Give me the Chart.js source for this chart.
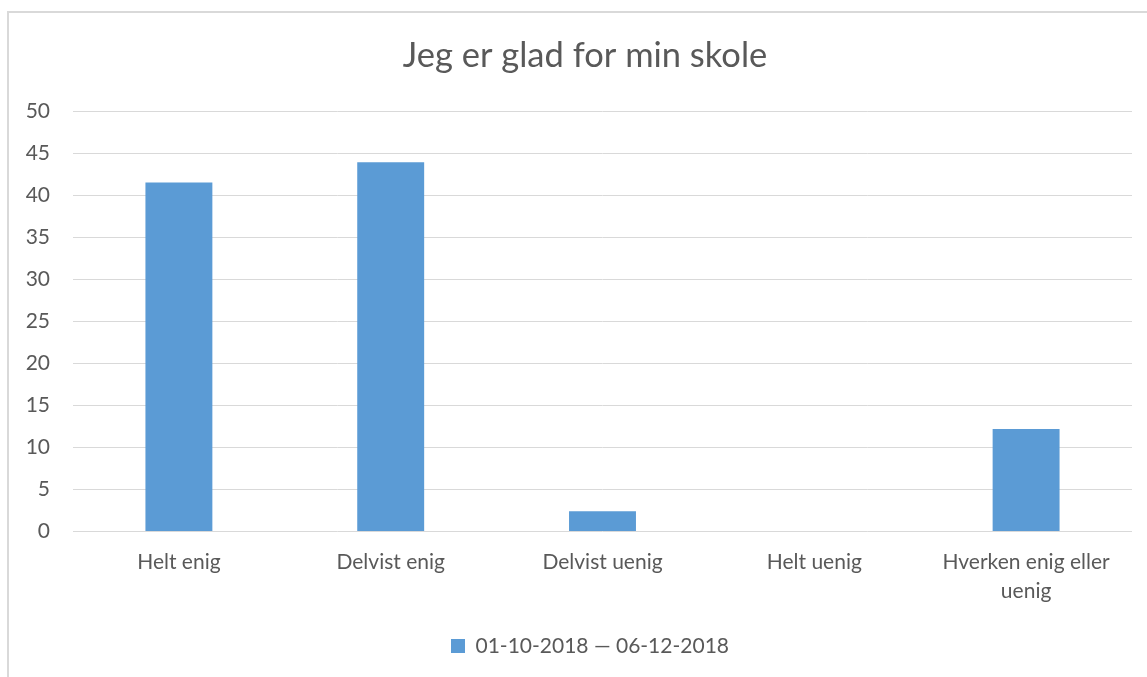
<!DOCTYPE html>
<html>
<head>
<meta charset="utf-8">
<script src="https://cdn.jsdelivr.net/npm/chart.js@4/dist/chart.umd.min.js"></script>
<style>
  html, body { margin: 0; padding: 0; background: #fff; overflow: hidden; width: 1147px; height: 677px; }
  #frame { position: absolute; left: 7px; top: 11px; width: 1200px; height: 700px; border-left: 2px solid #d9d9d9; border-top: 2px solid #d9d9d9; }
  #wrap { position: absolute; left: 0; top: 0; width: 1147px; height: 677px; }
</style>
</head>
<body>
<div id="frame"></div>
<div id="wrap"><canvas id="c" width="1147" height="677"></canvas></div>
<script>
const titleText = 'Jeg er glad for min skole';
const categories = ['Helt enig', 'Delvist enig', 'Delvist uenig', 'Helt uenig', ['Hverken enig eller', 'uenig']];
const seriesLabel = '01-10-2018 \u2014 06-12-2018';
const seriesValues = [41.5, 43.9, 2.4, 0, 12.2];
const yTicks = [0, 5, 10, 15, 20, 25, 30, 35, 40, 45, 50];

const FONT = 'Lato, "Open Sans", sans-serif';
const TEXT = '#595959';

// shift title and legend horizontally to be centred like the original
const recentre = {
  id: 'recentre',
  afterLayout(chart) {
    if (chart.titleBlock) { chart.titleBlock.left = 38; chart.titleBlock.right = 1132; }
    if (chart.legend) { chart.legend.left = 48; chart.legend.right = 1132; }
  }
};

new Chart(document.getElementById('c'), {
  type: 'bar',
  data: {
    labels: categories,
    datasets: [{
      label: seriesLabel,
      data: seriesValues,
      backgroundColor: '#5B9BD5',
      borderWidth: 0,
      barPercentage: 0.316,
      categoryPercentage: 1.0
    }]
  },
  plugins: [recentre],
  options: {
    responsive: false,
    animation: false,
    layout: { padding: { left: 0, right: 15, top: 0, bottom: 10.5 } },
    plugins: {
      title: {
        display: true,
        text: titleText,
        color: TEXT,
        font: { family: FONT, size: 34.5, weight: 'normal' },
        padding: { top: 35.3, bottom: 34.3 }
      },
      legend: {
        display: true,
        position: 'bottom',
        labels: {
          color: TEXT,
          font: { family: FONT, size: 21 },
          boxWidth: 14,
          boxHeight: 14,
          padding: 13
        }
      },
      tooltip: { enabled: false }
    },
    scales: {
      x: {
        grid: { display: false, drawTicks: false },
        border: { display: false },
        ticks: {
          color: TEXT,
          font: { family: FONT, size: 21, lineHeight: 1.381 },
          padding: 16.5,
          maxRotation: 0,
          autoSkip: false
        }
      },
      y: {
        min: 0,
        max: 50,
        afterBuildTicks: (s) => { s.ticks = yTicks.map(v => ({ value: v })); },
        afterFit: (s) => { s.width = 73; },
        grid: { color: '#d9d9d9', lineWidth: 1, drawTicks: false },
        border: { display: false },
        ticks: {
          color: TEXT,
          font: { family: FONT, size: 21 },
          padding: 23
        }
      }
    }
  }
});
</script>
</body>
</html>
